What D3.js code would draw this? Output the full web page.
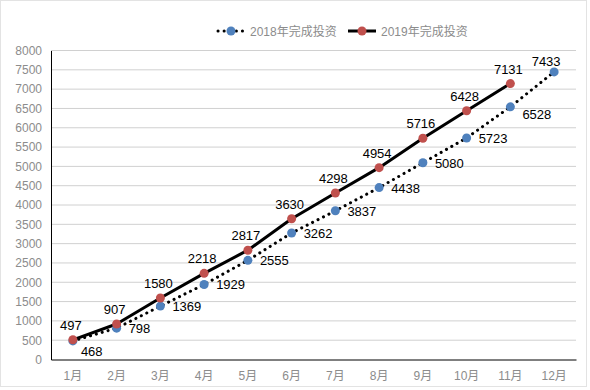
<!DOCTYPE html>
<html>
<head>
<meta charset="utf-8">
<script src="https://cdn.jsdelivr.net/npm/d3@7"></script>
<style>
  body { margin: 0; background: #fff; }
  text { font-family: "Liberation Sans", "Noto Sans CJK SC", sans-serif; }
</style>
</head>
<body>
<div id="chart"></div>
<script>
const months = ["1月","2月","3月","4月","5月","6月","7月","8月","9月","10月","11月","12月"];
const invest2018 = [468, 798, 1369, 1929, 2555, 3262, 3837, 4438, 5080, 5723, 6528, 7433];
const invest2019 = [497, 907, 1580, 2218, 2817, 3630, 4298, 4954, 5716, 6428, 7131];
const yTicks = d3.range(0, 8001, 500);
const seriesNames = ["2018年完成投资", "2019年完成投资"];

const width = 590, height = 390;
const margin = {top: 50, right: 14, bottom: 31, left: 51};

const svg = d3.select("#chart").append("svg")
    .attr("width", width)
    .attr("height", height);

// outer frame
svg.append("rect")
    .attr("x", 0.5).attr("y", 0.5)
    .attr("width", width - 4).attr("height", height - 4)
    .attr("fill", "#fff")
    .attr("stroke", "#e3e3e3");

var x = d3.scaleBand()
    .domain(months)
    .range([margin.left, width - margin.right]);

var y = d3.scaleLinear()
    .domain([0, 8000])
    .range([height - margin.bottom, margin.top]);

// gridlines
svg.append("g")
    .selectAll("line")
    .data(yTicks.filter(d => d > 0))
    .enter()
    .append("line")
    .attr("x1", margin.left)
    .attr("x2", width - margin.right)
    .attr("y1", d => y(d) + 0.5)
    .attr("y2", d => y(d) + 0.5)
    .attr("stroke", "#d0d0d0")
    .attr("stroke-width", 1);

// y axis
svg.append("g")
    .attr("transform", `translate(${margin.left},0.5)`)
    .call(d3.axisLeft(y).tickValues(yTicks).tickFormat(d3.format("d")).tickSize(0).tickPadding(9))
    .call(g => g.select(".domain").attr("stroke", "#000"))
    .selectAll("text")
        .attr("fill", "#8c8c8c")
        .attr("font-size", "12px");

// x axis
svg.append("g")
    .attr("transform", `translate(0,${height - margin.bottom + 0.5})`)
    .call(d3.axisBottom(x).tickSize(0).tickPadding(12))
    .call(g => g.select(".domain").attr("stroke", "#000"))
    .selectAll("text")
        .attr("fill", "#8c8c8c")
        .attr("font-size", "12px");

var line = d3.line()
    .x((d, i) => x(months[i]) + x.bandwidth() / 2)
    .y(d => y(d));

// 2018 dotted
svg.append("path")
    .datum(invest2018)
    .attr("d", line)
    .attr("fill", "none")
    .attr("stroke", "#000")
    .attr("stroke-width", 3)
    .attr("stroke-linecap", "round")
    .attr("stroke-dasharray", "0.1 6");

// 2019 solid
svg.append("path")
    .datum(invest2019)
    .attr("d", line)
    .attr("fill", "none")
    .attr("stroke", "#000")
    .attr("stroke-width", 3)
    .attr("stroke-linejoin", "round");

svg.append("g").selectAll("circle")
    .data(invest2018)
    .enter()
    .append("circle")
    .attr("cx", (d, i) => x(months[i]) + x.bandwidth() / 2)
    .attr("cy", d => y(d))
    .attr("r", 4.5)
    .attr("fill", "#4f81bd");

svg.append("g").selectAll("circle")
    .data(invest2019)
    .enter()
    .append("circle")
    .attr("cx", (d, i) => x(months[i]) + x.bandwidth() / 2)
    .attr("cy", d => y(d))
    .attr("r", 4.5)
    .attr("fill", "#c0504d");

// labels 2019: above
svg.append("g").selectAll("text")
    .data(invest2019)
    .enter()
    .append("text")
    .attr("x", (d, i) => x(months[i]) + x.bandwidth() / 2 - 2)
    .attr("y", d => y(d) - 10)
    .attr("text-anchor", "middle")
    .attr("font-size", "13px")
    .attr("fill", "#000")
    .text(d => d);

// labels 2018: right of point (first one pushed down, last one above)
svg.append("g").selectAll("text")
    .data(invest2018)
    .enter()
    .append("text")
    .attr("x", function(d, i) {
        var cx = x(months[i]) + x.bandwidth() / 2;
        if (i === 0) return cx + 8;
        return i === invest2018.length - 1 ? cx - 8 : cx + 12;
    })
    .attr("y", function(d, i) {
        if (i === 0) return y(d) + 15;
        if (i === invest2018.length - 1) return y(d) - 6;
        if (i === 10) return y(d) + 12;
        return y(d) + 5;
    })
    .attr("text-anchor", (d, i) => i === invest2018.length - 1 ? "middle" : "start")
    .attr("font-size", "13px")
    .attr("fill", "#000")
    .text(d => d);

// legend
var legend = svg.append("g").attr("transform", "translate(218,31)");
var l1 = legend.append("g");
l1.append("line")
    .attr("x1", 0).attr("x2", 26).attr("y1", 0).attr("y2", 0)
    .attr("stroke", "#000").attr("stroke-width", 3)
    .attr("stroke-linecap", "round").attr("stroke-dasharray", "0.1 6");
l1.append("circle").attr("cx", 13).attr("cy", 0).attr("r", 4.5).attr("fill", "#4f81bd");
l1.append("text").attr("x", 32).attr("y", 4.5)
    .attr("font-size", "12px").attr("fill", "#8c8c8c").text(seriesNames[0]);

var l2 = legend.append("g").attr("transform", "translate(130,0)");
l2.append("line")
    .attr("x1", 0).attr("x2", 28).attr("y1", 0).attr("y2", 0)
    .attr("stroke", "#000").attr("stroke-width", 3);
l2.append("circle").attr("cx", 14).attr("cy", 0).attr("r", 4.5).attr("fill", "#c0504d");
l2.append("text").attr("x", 33).attr("y", 4.5)
    .attr("font-size", "12px").attr("fill", "#8c8c8c").text(seriesNames[1]);
</script>
</body>
</html>
